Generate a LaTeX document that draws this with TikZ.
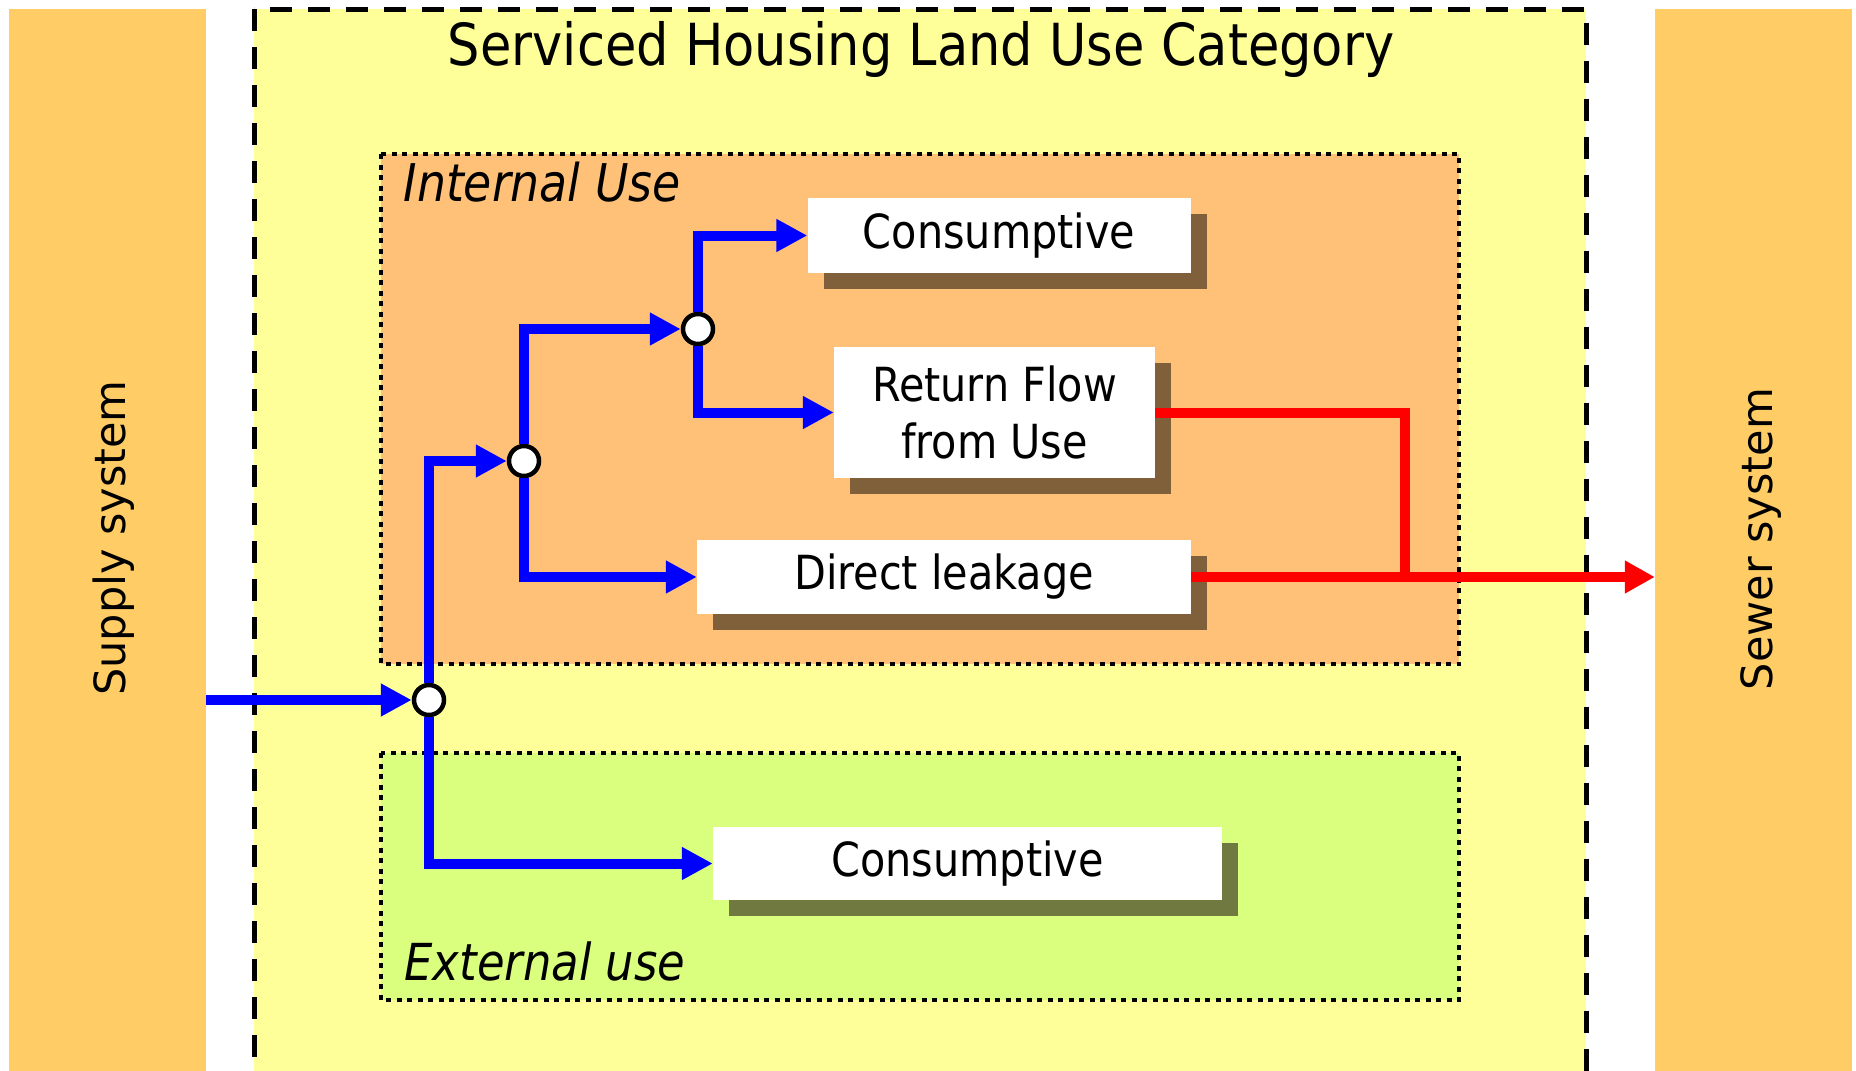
\documentclass[tikz,border=0pt]{standalone}
\usepackage{fontspec}
\setmainfont{DejaVu Sans}[FakeStretch=0.88]
\newfontfamily\barfont{DejaVu Sans}
\usetikzlibrary{arrows.meta,shadows}

\definecolor{barorange}{RGB}{255,204,102}
\definecolor{landyellow}{RGB}{255,255,153}
\definecolor{internalfill}{RGB}{255,193,119}
\definecolor{externalfill}{RGB}{218,255,127}
\definecolor{brownshadow}{RGB}{128,96,58}
\definecolor{oliveshadow}{RGB}{112,122,64}

\begin{document}
\begin{tikzpicture}[x=1pt,y=-1pt,
  bar/.style={fill=barorange,inner sep=0,minimum width=197pt,minimum height=1063pt},
  barlabel/.style={rotate=90,font=\barfont\fontsize{43}{50}\selectfont},
  usebox/.style={fill=white,inner sep=0,align=center,font=\fontsize{47}{57}\selectfont,
    general shadow={fill=brownshadow,shadow xshift=16pt,shadow yshift=-16pt}},
  junction/.style={circle,draw,fill=white,line width=4.5pt,minimum size=30pt,inner sep=0},
  flow/.style={draw=blue,line width=10pt,-{Triangle[length=31pt,width=31pt]}},
  sewage/.style={draw=red,line width=10pt},
  areabox/.style={dash pattern=on 5pt off 5.5pt,line width=4.5pt}]
\useasboundingbox (0,0) rectangle (1856,1071);

% supply and sewer bars
\node[bar] (supply) at (107.5,540.5) {};
\node[bar] (sewer) at (1753.5,540.5) {};
\node[barlabel] at (114,538) {Supply system};
\node[barlabel] at (1761,539) {Sewer system};

% land use category
\draw[fill=landyellow,dash pattern=on 22pt off 16pt,line width=5pt] (254,9) rectangle (1586,1090);
\node[anchor=base,font=\fontsize{58}{62}\selectfont] (title) at (921,65) {Serviced Housing Land Use Category};

\draw[areabox,fill=internalfill] (381,154) rectangle (1459,664);
\draw[areabox,fill=externalfill] (381,753) rectangle (1459,1000);
\node[anchor=base west,font=\fontsize{52}{56}\selectfont\itshape] at (400,201) {Internal Use};
\node[anchor=base west,font=\fontsize{51}{56}\selectfont\itshape] at (401,980) {External use};

% uses
\node[usebox,minimum width=383pt,minimum height=75pt] (cons) at (999,235.5) {Consumptive};
\node[usebox,minimum width=321pt,minimum height=131pt] (ret) at (994.5,412.5) {Return Flow\\from Use};
\node[usebox,minimum width=494pt,minimum height=74pt] (leak) at (944,577) {Direct leakage};
\node[usebox,minimum width=509pt,minimum height=73pt,
  general shadow={fill=oliveshadow,shadow xshift=16pt,shadow yshift=-16pt}] (extcons) at (967.5,863.5) {Consumptive};

\node[junction] (j1) at (429,700) {};
\node[junction] (j2) at (524,461) {};
\node[junction] (j3) at (698,329) {};
\coordinate (merge) at (1405,577);

% water flows
\draw[flow] (supply.east |- j1) -- (j1);
\draw[flow] (j1) |- (j2);
\draw[flow] (j1) |- (extcons);
\draw[flow] (j2) |- (j3);
\draw[flow] (j2) |- (leak);
\draw[flow] (j3) |- (cons);
\draw[flow] (j3) |- (ret);

\draw[sewage] (ret.east) -| (merge);
\draw[sewage,-{Triangle[length=30pt,width=31pt]}] (leak.east) -- (leak -| sewer.west);
\end{tikzpicture}
\end{document}
